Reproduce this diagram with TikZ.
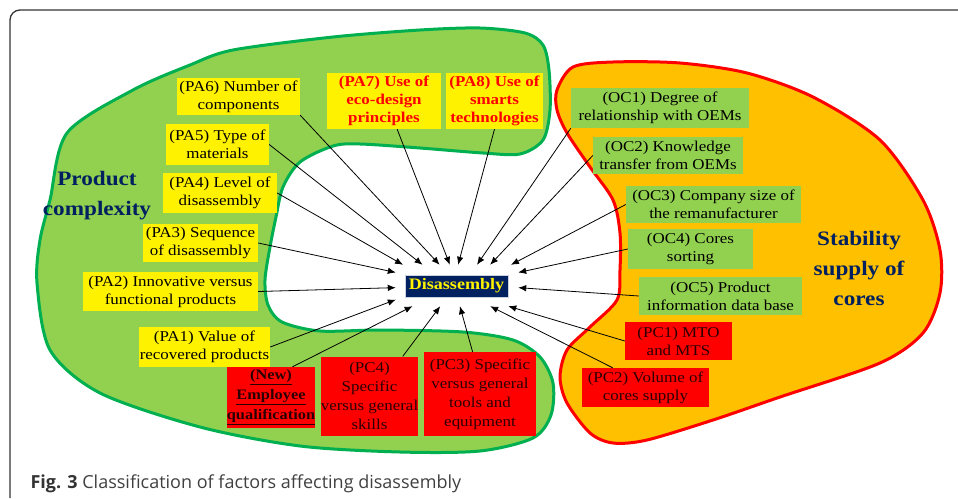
\documentclass[tikz,border=0pt]{standalone}
\usepackage{fontspec}
\setmainfont{Liberation Serif}[FakeStretch=1.13]
\newfontfamily\capfont{Open Sans}
\usepackage{tikz}
\usepackage{xcolor}
\usetikzlibrary{arrows, arrows.meta, calc, positioning}

\definecolor{leaf}{HTML}{92D050}
\definecolor{leafline}{HTML}{00B050}
\definecolor{amber}{HTML}{FFC000}
\definecolor{navy}{HTML}{002060}
\definecolor{ink}{HTML}{2A0000}
\definecolor{framegray}{HTML}{333333}
\definecolor{capgray}{HTML}{404040}

\begin{document}
\begin{tikzpicture}[x=1pt, y=-1pt,
    factor/.style={inner sep=0pt, align=center, font=\fontsize{15}{18}\selectfont},
    pabox/.style={factor, fill=yellow},
    ocbox/.style={factor, fill=leaf},
    pcbox/.style={factor, fill=red, text=ink},
    arr/.style={-{Latex[length=8pt,width=6.5pt]}, line width=0.8pt},
    blobtitle/.style={text=navy, align=center, font=\bfseries\fontsize{20.5}{30}\selectfont}]
    \useasboundingbox (0,0) rectangle (958,498);

    % frame
    \draw[framegray, line width=1.3pt, rounded corners=10pt] (958,10) -- (10,10) -- (10,498);

    % product complexity area
    \filldraw[fill=leaf, draw=leafline, line width=3pt] plot[smooth cycle, tension=0.5] coordinates {
        (133,90) (190,65) (233,50) (333,37) (420,30) (480,28) (525,33) (543,45) (549,70) (550,110)
        (543,140) (520,154) (483,153) (420,148) (360,144) (333,146) (300,162) (283,187) (276,217)
        (270,247) (265,280) (268,305) (282,322) (320,331) (380,330) (463,332) (513,340) (540,357)
        (553,383) (551,415) (533,438) (480,451) (400,452) (300,446) (200,427) (100,393) (50,350)
        (37,283) (40,240) (50,200) (67,133)};

    % stability supply area
    \filldraw[fill=amber, draw=red, line width=3pt] plot[smooth cycle, tension=0.5] coordinates {
        (557,90) (573,67) (613,62) (680,63) (747,73) (813,97) (880,140) (923,200) (940,250)
        (940,293) (923,333) (880,363) (780,397) (713,420) (647,440) (613,443) (590,433) (567,403)
        (560,377) (567,350) (590,327) (617,300) (620,270) (620,233) (613,200) (590,167) (567,133)
        (557,110)};

    \node[blobtitle] (prod) at (97,196) {Product\\complexity};
    \node[blobtitle] (stab) at (859,268) {Stability\\supply of\\cores};

    % centre
    \node[fill=navy, draw=white!80!navy, line width=0.6pt, text=yellow, inner sep=0pt,
          minimum width=103pt, minimum height=22pt, font=\bfseries\fontsize{16}{18}\selectfont] (dis) at (456.5,286) {Disassembly};
    \node[minimum width=122pt, minimum height=41pt, inner sep=0pt] (hub) at (457,285.5) {};

    % product attributes
    \node[pabox, minimum width=123pt, minimum height=37pt] (pa6) at (238.5,96.5) {(PA6) Number of\\components};
    \node[pabox, minimum width=103pt, minimum height=41pt] (pa5) at (217.5,144.5) {(PA5) Type of\\materials};
    \node[pabox, minimum width=114pt, minimum height=40pt] (pa4) at (220,193) {(PA4) Level of\\disassembly};
    \node[pabox, minimum width=115pt, minimum height=38pt] (pa3) at (200.5,243) {(PA3) Sequence\\of disassembly};
    \node[pabox, minimum width=175pt, minimum height=39pt] (pa2) at (170.5,291.5) {(PA2) Innovative versus\\functional products};
    \node[pabox, minimum width=131pt, minimum height=40pt] (pa1) at (204.5,347) {(PA1) Value of\\recovered products};
    \node[pabox, text=red, minimum width=114pt, minimum height=56pt, font=\bfseries\fontsize{15}{18}\selectfont] (pa7) at (384,101) {(PA7) Use of\\eco-design\\principles};
    \node[pabox, text=red, minimum width=97pt, minimum height=56pt, font=\bfseries\fontsize{15}{18}\selectfont] (pa8) at (494.5,101) {(PA8) Use of\\smarts\\technologies};

    % organisational characteristics
    \node[ocbox, minimum width=178pt, minimum height=40pt] (oc1) at (660,108) {(OC1) Degree of\\relationship with OEMs};
    \node[ocbox, minimum width=150pt, minimum height=37pt] (oc2) at (668,155.5) {(OC2) Knowledge\\transfer from OEMs};
    \node[ocbox, minimum width=175pt, minimum height=37pt] (oc3) at (713.5,204.5) {(OC3) Company size of\\the remanufacturer};
    \node[ocbox, minimum width=125pt, minimum height=40pt] (oc4) at (690.5,249) {(OC4) Cores\\sorting};
    \node[ocbox, minimum width=163pt, minimum height=38pt] (oc5) at (720.5,296) {(OC5) Product\\information data base};

    % process characteristics
    \node[pcbox, minimum width=107pt, minimum height=38pt] (pc1) at (678.5,341) {(PC1) MTO\\and MTS};
    \node[pcbox, minimum width=127pt, minimum height=39pt] (pc2) at (645.5,387.5) {(PC2) Volume of\\cores supply};
    \node[pcbox, minimum width=112pt, minimum height=84pt, font=\fontsize{15}{19}\selectfont] (pc3) at (480,394) {(PC3) Specific\\versus general\\tools and\\equipment};
    \node[pcbox, minimum width=96pt, minimum height=79pt, font=\fontsize{15}{19}\selectfont] (pc4) at (369.5,396) {(PC4)\\Specific\\versus general\\skills};
    \node[pcbox, minimum width=88pt, minimum height=61pt, font=\bfseries\fontsize{14.5}{20}\selectfont] (new) at (271,397.5) {\underline{(New)}\\\underline{Employee}\\\underline{qualification}};

    % connectors
    \foreach \from/\to in {pa1.east/hub.193, pa2.east/hub.182, pa3.east/hub.168, pa4.east/hub.159,
        pa5.east/hub.149, pa6.south east/hub.130, pa7.295/hub.109, pa8.south/hub.87,
        oc1.south west/hub.46, oc2.west/hub.32, oc3.west/hub.21, oc4.west/hub.12, oc5.west/hub.358,
        pc1.west/hub.338, pc2.149/hub.328, pc3.100/hub.278, pc4.50/hub.231, new.55/hub.205}
        \draw[arr] (\from) -- (\to);

    % caption
    \node[anchor=base west, text=capgray, font=\capfont\fontsize{18}{22}\selectfont] (cap) at (27,488)
        {\textbf{\color{framegray}Fig. 3} Classification of factors affecting disassembly};
\end{tikzpicture}
\end{document}
